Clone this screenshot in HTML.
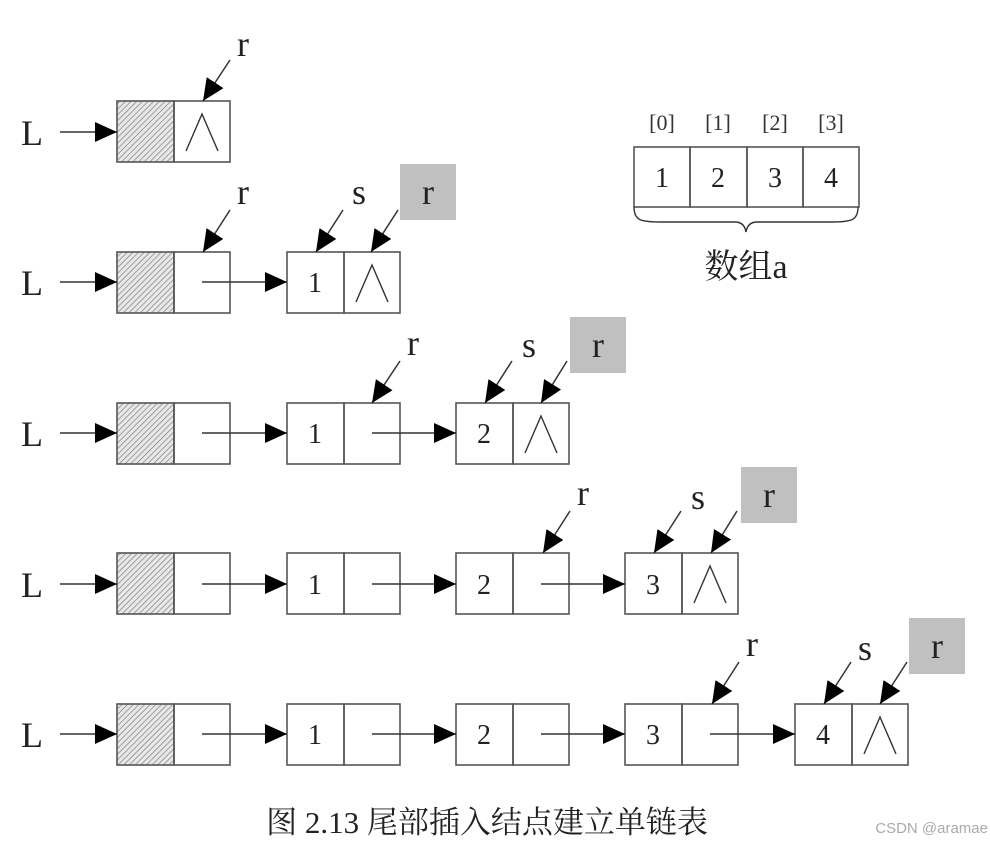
<!DOCTYPE html>
<html><head><meta charset="utf-8"><style>body{margin:0;background:#fff}svg{display:block}</style></head><body>
<svg width="990" height="844" viewBox="0 0 990 844" xmlns="http://www.w3.org/2000/svg" font-family="'Liberation Serif','Noto Serif CJK SC',serif">
<defs>
<pattern id="h" width="4" height="4" patternUnits="userSpaceOnUse" patternTransform="rotate(45)"><rect width="4" height="4" fill="#e8e8e8"/><line x1="0" y1="0" x2="0" y2="4" stroke="#777" stroke-width="1.3"/></pattern>
<marker id="a" markerWidth="24" markerHeight="20" refX="22" refY="10" orient="auto" markerUnits="userSpaceOnUse"><path d="M0,0 L22,10 L0,20 Z" fill="#000"/></marker>
</defs>
<g stroke="#555" stroke-width="1.6" fill="none">
<!-- row1 -->
<rect x="117" y="101" width="57" height="61" fill="url(#h)"/><rect x="174" y="101" width="56" height="61"/>
<!-- row2 -->
<rect x="117" y="252" width="57" height="61" fill="url(#h)"/><rect x="174" y="252" width="56" height="61"/>
<rect x="287" y="252" width="57" height="61"/><rect x="344" y="252" width="56" height="61"/>
<!-- row3 -->
<rect x="117" y="403" width="57" height="61" fill="url(#h)"/><rect x="174" y="403" width="56" height="61"/>
<rect x="287" y="403" width="57" height="61"/><rect x="344" y="403" width="56" height="61"/>
<rect x="456" y="403" width="57" height="61"/><rect x="513" y="403" width="56" height="61"/>
<!-- row4 -->
<rect x="117" y="553" width="57" height="61" fill="url(#h)"/><rect x="174" y="553" width="56" height="61"/>
<rect x="287" y="553" width="57" height="61"/><rect x="344" y="553" width="56" height="61"/>
<rect x="456" y="553" width="57" height="61"/><rect x="513" y="553" width="56" height="61"/>
<rect x="625" y="553" width="57" height="61"/><rect x="682" y="553" width="56" height="61"/>
<!-- row5 -->
<rect x="117" y="704" width="57" height="61" fill="url(#h)"/><rect x="174" y="704" width="56" height="61"/>
<rect x="287" y="704" width="57" height="61"/><rect x="344" y="704" width="56" height="61"/>
<rect x="456" y="704" width="57" height="61"/><rect x="513" y="704" width="56" height="61"/>
<rect x="625" y="704" width="57" height="61"/><rect x="682" y="704" width="56" height="61"/>
<rect x="795" y="704" width="57" height="61"/><rect x="852" y="704" width="56" height="61"/>
<!-- array -->
<rect x="634" y="147" width="56" height="60"/><rect x="690" y="147" width="57" height="60"/><rect x="747" y="147" width="56" height="60"/><rect x="803" y="147" width="56" height="60"/>
</g>
<!-- null symbols -->
<g stroke="#333" stroke-width="1.4" fill="none">
<path d="M186,151 L202,114 L218,151"/>
<path d="M356,302 L372,265 L388,302"/>
<path d="M525,453 L541,416 L557,453"/>
<path d="M694,603 L710,566 L726,603"/>
<path d="M864,754 L880,717 L896,754"/>
<path d="M634,207 C634,220 640,222 660,222 L735,222 C742,222 745,226 746,232 C747,226 750,222 757,222 L832,222 C852,222 858,220 858,207"/>
</g>
<!-- arrows -->
<g stroke="#333" stroke-width="1.5" marker-end="url(#a)">
<line x1="60" y1="132" x2="117" y2="132"/>
<line x1="60" y1="282" x2="117" y2="282"/>
<line x1="60" y1="433" x2="117" y2="433"/>
<line x1="60" y1="584" x2="117" y2="584"/>
<line x1="60" y1="734" x2="117" y2="734"/>
<line x1="202" y1="282" x2="287" y2="282"/>
<line x1="202" y1="433" x2="287" y2="433"/><line x1="372" y1="433" x2="456" y2="433"/>
<line x1="202" y1="584" x2="287" y2="584"/><line x1="372" y1="584" x2="456" y2="584"/><line x1="541" y1="584" x2="625" y2="584"/>
<line x1="202" y1="734" x2="287" y2="734"/><line x1="372" y1="734" x2="456" y2="734"/><line x1="541" y1="734" x2="625" y2="734"/><line x1="710" y1="734" x2="795" y2="734"/>
<line x1="230" y1="60" x2="203" y2="101"/>
<line x1="230" y1="210" x2="203" y2="252"/><line x1="343" y1="210" x2="316" y2="252"/><line x1="398" y1="210" x2="371" y2="252"/>
<line x1="400" y1="361" x2="372" y2="403"/><line x1="512" y1="361" x2="485" y2="403"/><line x1="567" y1="361" x2="541" y2="403"/>
<line x1="570" y1="511" x2="543" y2="553"/><line x1="681" y1="511" x2="654" y2="553"/><line x1="737" y1="511" x2="711" y2="553"/>
<line x1="739" y1="662" x2="712" y2="704"/><line x1="851" y1="662" x2="824" y2="704"/><line x1="907" y1="662" x2="880" y2="704"/>
</g>
<!-- grey boxes -->
<g fill="#c0c0c0"><rect x="400" y="164" width="56" height="56"/><rect x="570" y="317" width="56" height="56"/><rect x="741" y="467" width="56" height="56"/><rect x="909" y="618" width="56" height="56"/></g>
<g fill="#222" font-size="36" text-anchor="middle">
<text x="32" y="145">L</text><text x="32" y="295">L</text><text x="32" y="446">L</text><text x="32" y="597">L</text><text x="32" y="747">L</text>
<text x="243" y="56">r</text>
<text x="243" y="204">r</text><text x="359" y="204">s</text><text x="428" y="204">r</text>
<text x="413" y="355">r</text><text x="529" y="357">s</text><text x="598" y="357">r</text>
<text x="583" y="505">r</text><text x="698" y="509">s</text><text x="769" y="507">r</text>
<text x="752" y="656">r</text><text x="865" y="660">s</text><text x="937" y="658">r</text>
</g>
<g fill="#222" font-size="28" text-anchor="middle">
<text x="315" y="292">1</text>
<text x="315" y="443">1</text><text x="484" y="443">2</text>
<text x="315" y="594">1</text><text x="484" y="594">2</text><text x="653" y="594">3</text>
<text x="315" y="744">1</text><text x="484" y="744">2</text><text x="653" y="744">3</text><text x="823" y="744">4</text>
<text x="662" y="187">1</text><text x="718" y="187">2</text><text x="775" y="187">3</text><text x="831" y="187">4</text>
</g>
<g fill="#333" font-size="22" text-anchor="middle">
<text x="662" y="130">[0]</text><text x="718" y="130">[1]</text><text x="775" y="130">[2]</text><text x="831" y="130">[3]</text>
</g>
<text x="746" y="278" font-size="34" text-anchor="middle" fill="#222">数组a</text>
<text x="487" y="833" font-size="31" text-anchor="middle" fill="#222">图 2.13 尾部插入结点建立单链表</text>
<text x="988" y="833" font-size="15" text-anchor="end" fill="#aaa" font-family="'Liberation Sans',sans-serif">CSDN @aramae</text>
</svg>
</body></html>
